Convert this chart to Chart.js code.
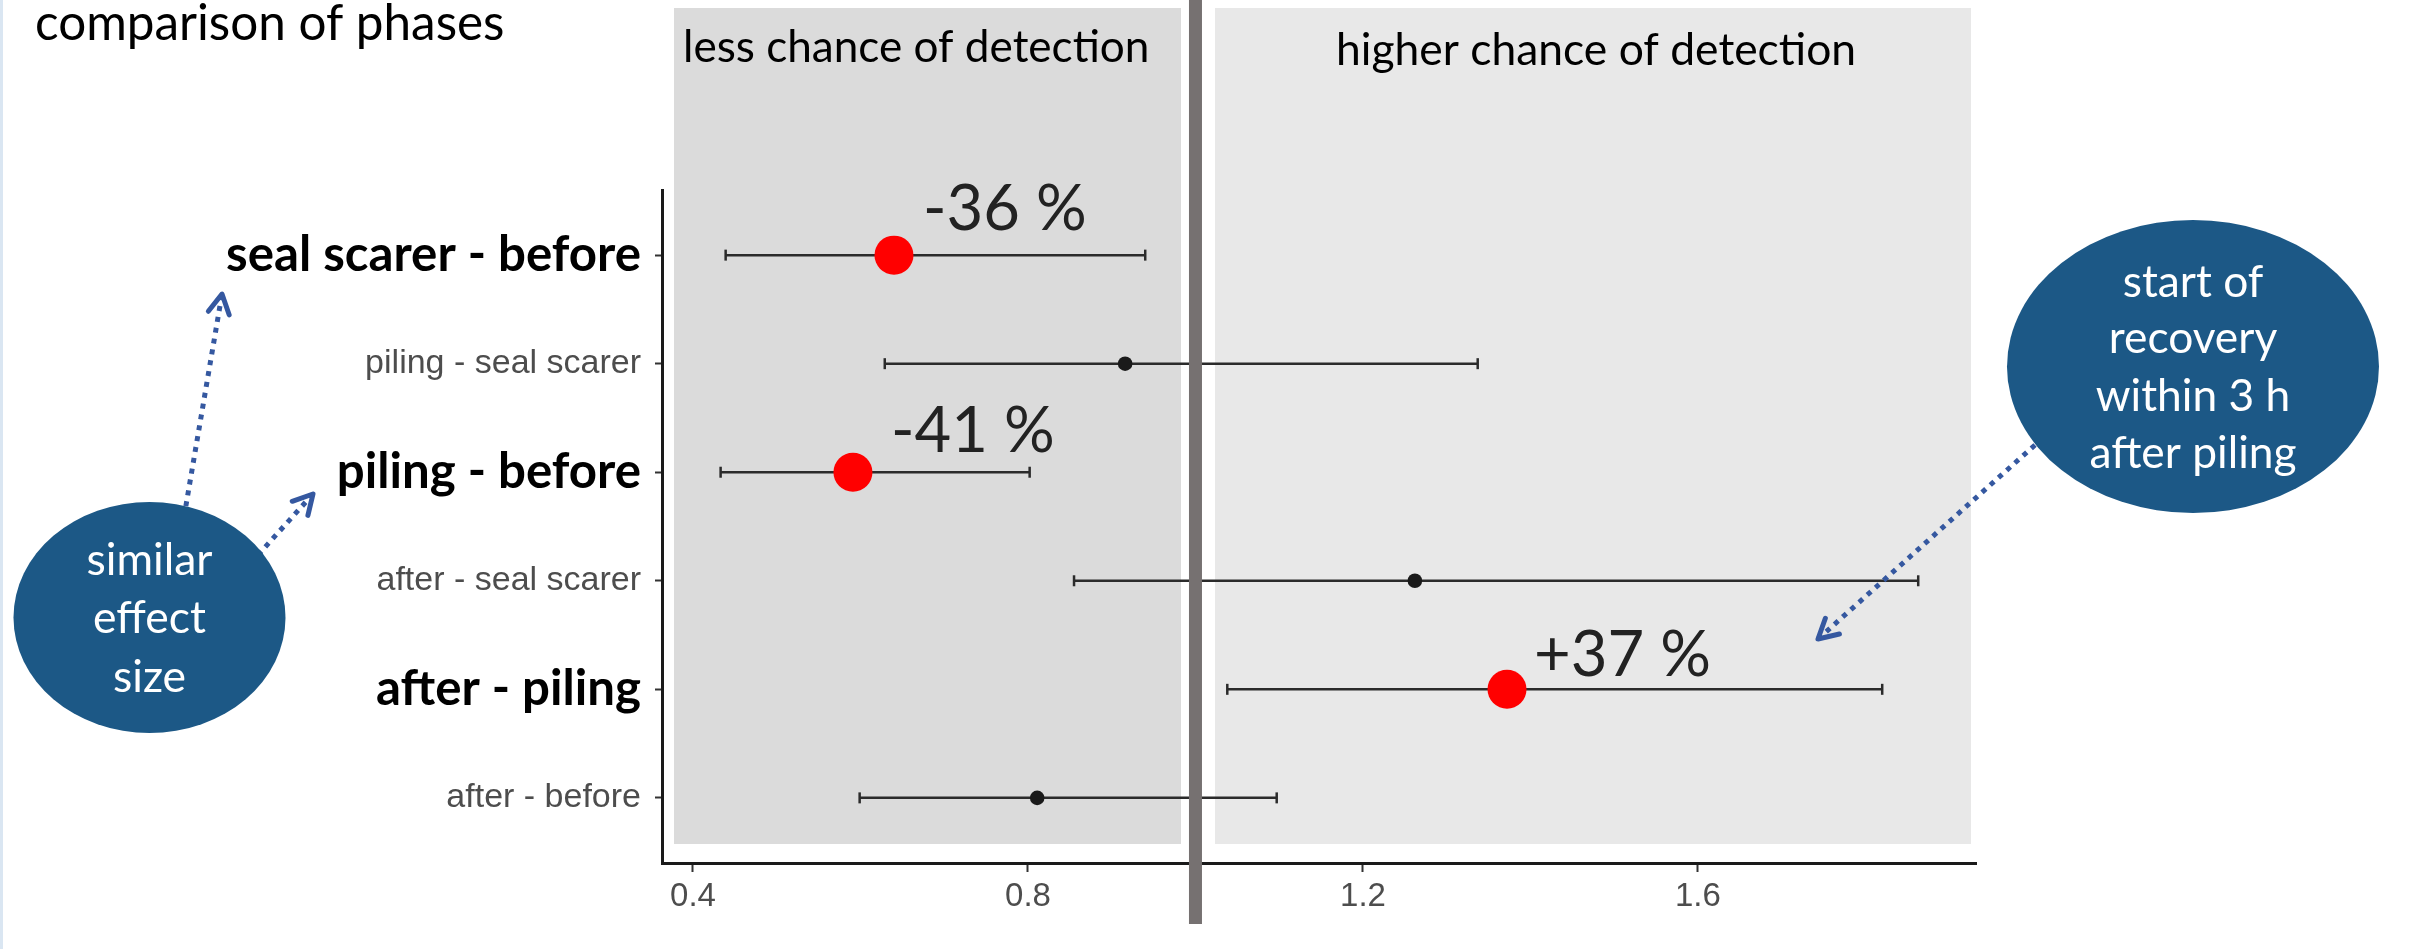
<!DOCTYPE html>
<html><head><meta charset="utf-8">
<script src="https://cdn.jsdelivr.net/npm/chart.js@4.4.1/dist/chart.umd.min.js"></script>
<style>html,body{margin:0;padding:0;background:#fff;overflow:hidden}canvas{display:block}</style>
</head><body>
<canvas id="c" width="2417" height="949"></canvas>
<script>
// ---- data ----
const rowLabels = ['seal scarer - before','piling - seal scarer','piling - before','after - seal scarer','after - piling','after - before'];
const highlighted = [true,false,true,false,true,false];
const estimates = [0.640,0.916,0.591,1.262,1.372,0.811];
const lowerCI  = [0.439,0.629,0.433,0.855,1.038,0.599];
const upperCI  = [0.940,1.337,0.802,1.863,1.820,1.097];
const xTicks = [0.4,0.8,1.2,1.6];
const changeLabels = ['-36 %', null, '-41 %', null, '+37 %', null];
const refValue = 1.0;
const titleText = 'comparison of phases';
const zoneLabels = ['less chance of detection','higher chance of detection'];
const leftNote = ['similar','effect','size'];
const rightNote = ['start of','recovery','within 3 h','after piling'];

// ---- helpers ----
const W = 2417, H = 949;
const mctx = document.createElement('canvas').getContext('2d');
function fitSize(text, weight, family, width){
  mctx.font = weight + ' 100px ' + family;
  return 100 * width / mctx.measureText(text).width;
}
const boldTickSize = fitSize('seal scarer - before','bold','Lato',415);
const FONT_SANS = "'Liberation Sans', Arial, sans-serif";

function dottedArrow(c, x1, y1, x2, y2){
  c.save();
  c.strokeStyle = '#3558a0';
  c.lineWidth = 5;
  c.setLineDash([5,6]);
  c.beginPath(); c.moveTo(x1,y1); c.lineTo(x2,y2); c.stroke();
  c.setLineDash([]);
  const a = Math.atan2(y2-y1, x2-x1), L = 22, s = 0.5;
  c.lineCap = 'round'; c.lineJoin = 'round';
  c.beginPath();
  c.moveTo(x2 - L*Math.cos(a-s), y2 - L*Math.sin(a-s));
  c.lineTo(x2, y2);
  c.lineTo(x2 - L*Math.cos(a+s), y2 - L*Math.sin(a+s));
  c.stroke();
  c.restore();
}
function bubble(c, cx, cy, rx, ry, lines, baselines, fitLine, fitWidth){
  c.save();
  c.fillStyle = '#1c5886';
  c.beginPath(); c.ellipse(cx, cy, rx, ry, 0, 0, Math.PI*2); c.fill();
  const sz = fitSize(fitLine, 'normal', 'Lato', fitWidth);
  c.fillStyle = '#ffffff';
  c.font = sz.toFixed(1) + 'px Lato';
  c.textAlign = 'center'; c.textBaseline = 'alphabetic';
  lines.forEach((t,i) => c.fillText(t, cx, baselines[i]));
  c.restore();
}

const decor = {
  id: 'decor',
  beforeDraw(chart){
    const c = chart.ctx;
    c.save();
    c.fillStyle = '#ffffff'; c.fillRect(0,0,W,H);
    c.fillStyle = '#dae6f2'; c.fillRect(0,0,3,H);
    c.fillStyle = '#dbdbdb'; c.fillRect(674,8,507,836);
    c.fillStyle = '#e8e8e8'; c.fillRect(1215,8,756,836);
    c.restore();
  },
  afterDraw(chart){
    const c = chart.ctx, xs = chart.scales.x, ys = chart.scales.y;
    c.save();
    // reference line at ratio 1
    const xr = xs.getPixelForValue(refValue);
    c.fillStyle = '#767171';
    c.fillRect(xr - 6.5, 0, 13, 924);
    // titles
    c.fillStyle = '#000';
    c.textBaseline = 'alphabetic'; c.textAlign = 'left';
    c.font = fitSize(titleText,'normal','Lato',470).toFixed(1) + 'px Lato';
    c.fillText(titleText, 35, 40);
    c.font = fitSize(zoneLabels[0],'normal','Lato',466).toFixed(1) + 'px Lato';
    c.fillText(zoneLabels[0], 683, 62);
    c.font = fitSize(zoneLabels[1],'normal','Lato',520).toFixed(1) + 'px Lato';
    c.fillText(zoneLabels[1], 1336, 65);
    // percent change labels next to highlighted estimates
    const offs = [[29,-25],null,[38,-20],null,[27,-13],null];
    c.fillStyle = '#222';
    c.font = fitSize('-36 %','normal','Lato',164).toFixed(1) + 'px Lato';
    changeLabels.forEach((t,i) => {
      if (!t) return;
      const px = xs.getPixelForValue(estimates[i]) + offs[i][0];
      const py = ys.getPixelForValue(i+1) + offs[i][1];
      c.fillText(t, px, py);
    });
    c.restore();
    // arrows and bubbles
    dottedArrow(c, 184, 517, 222, 294);
    dottedArrow(c, 258, 555, 313, 494);
    dottedArrow(c, 2035, 445, 1818, 639);
    bubble(c, 149.5, 617.5, 136, 115.5, leftNote, [575,633,692], 'similar', 126);
    bubble(c, 2193, 366.5, 186, 146.5, rightNote, [297,353,411,468], 'after piling', 207);
  }
};

const estimateDataset = {
  data: estimates.map((x,i) => ({x, y: i+1})),
  showLine: false,
  pointRadius: c => highlighted[c.dataIndex] ? 19.5 : 7.3,
  pointBackgroundColor: c => highlighted[c.dataIndex] ? '#ff0000' : '#1a1a1a',
  pointBorderWidth: 0,
  pointHoverRadius: c => highlighted[c.dataIndex] ? 19.5 : 7.3
};
const ciDatasets = rowLabels.map((_,i) => ({
  data: [{x: lowerCI[i], y: i+1}, {x: upperCI[i], y: i+1}],
  showLine: true,
  borderColor: '#2b2b2b',
  borderWidth: 2.5,
  pointStyle: 'line',
  pointRotation: 90,
  pointRadius: 5.5,
  pointBorderColor: '#2b2b2b',
  pointBorderWidth: 2.5
}));

new Chart(document.getElementById('c').getContext('2d'), {
  type: 'scatter',
  data: { datasets: [estimateDataset, ...ciDatasets] },
  options: {
    responsive: false,
    devicePixelRatio: 1,
    animation: false,
    events: [],
    layout: { padding: { left: 0, top: 190, right: 441, bottom: 0 } },
    plugins: { legend: { display: false }, tooltip: { enabled: false } },
    scales: {
      x: {
        type: 'linear', min: 0.363, max: 1.932,
        afterBuildTicks: s => { s.ticks = xTicks.map(v => ({value: v})); },
        afterFit: s => { s.height = 86; },
        ticks: { callback: v => Number(v).toFixed(1), font: { family: FONT_SANS, size: 33 }, color: '#4d4d4d', padding: 5, maxRotation: 0, autoSkip: false },
        grid: { drawOnChartArea: false, drawTicks: true, tickLength: 9, tickWidth: 2, tickColor: '#333' },
        border: { display: true, width: 3, color: '#1a1a1a' }
      },
      y: {
        type: 'linear', min: 0.4, max: 6.6, reverse: true,
        afterBuildTicks: s => { s.ticks = rowLabels.map((_,i) => ({value: i+1})); },
        afterFit: s => { s.width = 662; },
        ticks: {
          callback: v => rowLabels[Math.round(v)-1],
          font: c => highlighted[c.index] ? { family: 'Lato', weight: 'bold', size: boldTickSize } : { family: FONT_SANS, size: 34 },
          color: c => highlighted[c.index] ? '#000000' : '#4d4d4d',
          padding: 14, autoSkip: false
        },
        grid: { drawOnChartArea: false, drawTicks: true, tickLength: 7, tickWidth: 2, tickColor: '#333' },
        border: { display: true, width: 3, color: '#1a1a1a' }
      }
    }
  },
  plugins: [decor]
});
</script>
</body></html>
